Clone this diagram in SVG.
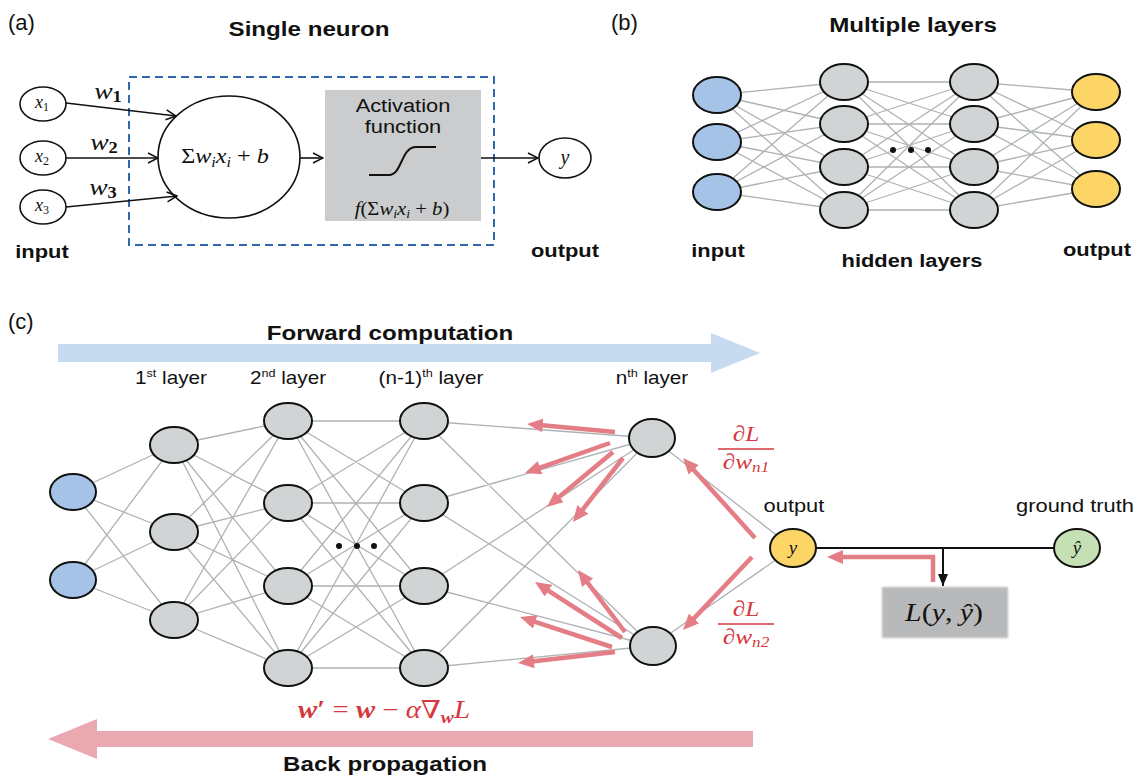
<svg xmlns="http://www.w3.org/2000/svg" width="1146" height="777" viewBox="0 0 1146 777">
<defs>
<style>
.sans{font-family:"Liberation Sans",Arial,sans-serif;fill:#111}
.b{font-weight:bold}
.math{font-family:"Liberation Serif","DejaVu Serif","Times New Roman",serif;font-style:italic;fill:#111}
.up{font-style:normal}
.wide{transform-box:fill-box;transform-origin:center;transform:scaleX(1.15)}
.red{fill:#d5383e}
.node{stroke:#111;stroke-width:2}
.wnode{fill:#fff;stroke:#111;stroke-width:1.6}
.gray{fill:#d1d4d5}
.blue{fill:#a5c3e6}
.yellow{fill:#fdd567}
.green{fill:#c6e0b5}
.edge{stroke:#aeb2b5;stroke-width:1.3;fill:none}
.blk{stroke:#111;stroke-width:1.6;fill:none}
.rarrow{stroke:#e47d85;stroke-width:4.5;fill:none;marker-end:url(#rh)}
</style>
<marker id="oa" viewBox="0 0 12 12" refX="11" refY="6" markerWidth="12" markerHeight="12" markerUnits="userSpaceOnUse" orient="auto"><path d="M1,1 L11,6 L1,11" fill="none" stroke="#111" stroke-width="1.5"/></marker>
<marker id="rh" viewBox="0 0 16 14" refX="9" refY="7" markerWidth="16" markerHeight="14" markerUnits="userSpaceOnUse" orient="auto"><path d="M0,0 L16,7 L0,14 Z" fill="#e47d85"/></marker>
<marker id="bh" viewBox="0 0 12 10" refX="12" refY="5" markerWidth="12" markerHeight="10" markerUnits="userSpaceOnUse" orient="auto"><path d="M0,0 L12,5 L0,10 Z" fill="#111"/></marker>
<filter id="soft" x="-5%" y="-5%" width="110%" height="110%"><feGaussianBlur stdDeviation="1"/></filter>
</defs>
<rect width="1146" height="777" fill="#fff"/>

<!-- ========== Panel (a) ========== -->
<text x="8" y="30" class="sans" font-size="22">(a)</text>
<text x="309" y="36" class="sans b wide" font-size="21" text-anchor="middle">Single neuron</text>
<rect id="a-box" x="129" y="77" width="365" height="168" fill="none" stroke="#2f68b0" stroke-width="2" stroke-dasharray="8,5"/>

<g id="a-x1"><ellipse cx="43" cy="104" rx="23" ry="17" class="wnode"/><text x="42" y="108" class="math" font-size="18" text-anchor="middle">x<tspan class="up" font-size="12" dy="3">1</tspan></text></g>
<g id="a-x2"><ellipse cx="43" cy="158" rx="23" ry="17" class="wnode"/><text x="42" y="162" class="math" font-size="18" text-anchor="middle">x<tspan class="up" font-size="12" dy="3">2</tspan></text></g>
<g id="a-x3"><ellipse cx="43" cy="207" rx="23" ry="17" class="wnode"/><text x="42" y="211" class="math" font-size="18" text-anchor="middle">x<tspan class="up" font-size="12" dy="3">3</tspan></text></g>

<text x="108" y="99" class="math wide" font-size="24" text-anchor="middle">w<tspan class="up" font-weight="bold" font-size="16" dy="3">1</tspan></text>
<text x="104" y="150" class="math wide" font-size="24" text-anchor="middle">w<tspan class="up" font-weight="bold" font-size="16" dy="3">2</tspan></text>
<text x="103" y="195" class="math wide" font-size="24" text-anchor="middle">w<tspan class="up" font-weight="bold" font-size="16" dy="3">3</tspan></text>

<g id="a-sum"><ellipse cx="229" cy="157" rx="71" ry="61" class="wnode"/><text x="225" y="163" class="math wide" font-size="21" text-anchor="middle"><tspan class="up">Σ</tspan>w<tspan font-size="14" dy="4">i</tspan><tspan dy="-4">x</tspan><tspan font-size="14" dy="4">i</tspan><tspan class="up" dy="-4"> + </tspan>b</text></g>

<g id="a-activation">
<rect x="325" y="90" width="156" height="131" fill="#cacccd"/>
<text x="403" y="112" class="sans wide" font-size="19" text-anchor="middle">Activation</text>
<text x="403" y="133" class="sans wide" font-size="19" text-anchor="middle">function</text>
<path d="M369,175 H389 C402,175 401,147 416,147 H436" fill="none" stroke="#111" stroke-width="2"/>
<text x="402" y="215" class="math wide" font-size="18" text-anchor="middle">f<tspan class="up">(Σ</tspan>w<tspan font-size="12" dy="3">i</tspan><tspan dy="-3">x</tspan><tspan font-size="12" dy="3">i</tspan><tspan class="up" dy="-3"> + </tspan>b<tspan class="up">)</tspan></text>
</g>

<g id="a-y"><ellipse cx="565" cy="158" rx="26" ry="20" class="wnode"/><text x="565" y="164" class="math" font-size="20" text-anchor="middle">y</text></g>

<g id="a-connectors">
<line x1="66" y1="103" x2="176" y2="116" class="blk" marker-end="url(#oa)"/>
<line x1="66" y1="158" x2="158" y2="158" class="blk" marker-end="url(#oa)"/>
<line x1="66" y1="207" x2="177" y2="196" class="blk" marker-end="url(#oa)"/>
<line x1="300" y1="158" x2="323" y2="158" class="blk" marker-end="url(#oa)"/>
<line x1="481" y1="158" x2="538" y2="158" class="blk" marker-end="url(#oa)"/>
</g>

<text x="42" y="258" class="sans b wide" font-size="19" text-anchor="middle">input</text>
<text x="565" y="257" class="sans b wide" font-size="19" text-anchor="middle">output</text>

<!-- ========== Panel (b) ========== -->
<text x="611" y="30" class="sans" font-size="22">(b)</text>
<text x="913" y="32" class="sans b wide" font-size="21" text-anchor="middle">Multiple layers</text>

<g id="b-connectors" class="edge">
<path d="M717,95L844,82M717,95L844,124M717,95L844,167M717,95L844,210M717,142L844,82M717,142L844,124M717,142L844,167M717,142L844,210M717,192L844,82M717,192L844,124M717,192L844,167M717,192L844,210
M844,82L974,82M844,82L974,124M844,82L974,167M844,82L974,210M844,124L974,82M844,124L974,124M844,124L974,167M844,124L974,210M844,167L974,82M844,167L974,124M844,167L974,167M844,167L974,210M844,210L974,82M844,210L974,124M844,210L974,167M844,210L974,210
M974,82L1096,92M974,82L1096,140M974,82L1096,189M974,124L1096,92M974,124L1096,140M974,124L1096,189M974,167L1096,92M974,167L1096,140M974,167L1096,189M974,210L1096,92M974,210L1096,140M974,210L1096,189"/>
</g>

<g id="b-in1"><ellipse cx="717" cy="95" rx="24" ry="18" class="node blue"/></g>
<g id="b-in2"><ellipse cx="717" cy="142" rx="24" ry="18" class="node blue"/></g>
<g id="b-in3"><ellipse cx="717" cy="192" rx="24" ry="18" class="node blue"/></g>
<g id="b-h1a"><ellipse cx="844" cy="82" rx="24" ry="18" class="node gray"/></g>
<g id="b-h1b"><ellipse cx="844" cy="124" rx="24" ry="18" class="node gray"/></g>
<g id="b-h1c"><ellipse cx="844" cy="167" rx="24" ry="18" class="node gray"/></g>
<g id="b-h1d"><ellipse cx="844" cy="210" rx="24" ry="18" class="node gray"/></g>
<g id="b-h2a"><ellipse cx="974" cy="82" rx="24" ry="18" class="node gray"/></g>
<g id="b-h2b"><ellipse cx="974" cy="124" rx="24" ry="18" class="node gray"/></g>
<g id="b-h2c"><ellipse cx="974" cy="167" rx="24" ry="18" class="node gray"/></g>
<g id="b-h2d"><ellipse cx="974" cy="210" rx="24" ry="18" class="node gray"/></g>
<g id="b-out1"><ellipse cx="1096" cy="92" rx="24" ry="18" class="node yellow"/></g>
<g id="b-out2"><ellipse cx="1096" cy="140" rx="24" ry="18" class="node yellow"/></g>
<g id="b-out3"><ellipse cx="1096" cy="189" rx="24" ry="18" class="node yellow"/></g>
<g id="b-dots" fill="#111"><circle cx="893" cy="150" r="3"/><circle cx="911" cy="150" r="3"/><circle cx="928" cy="150" r="3"/></g>

<text x="718" y="257" class="sans b wide" font-size="19" text-anchor="middle">input</text>
<text x="912" y="267" class="sans b wide" font-size="19" text-anchor="middle">hidden layers</text>
<text x="1097" y="256" class="sans b wide" font-size="19" text-anchor="middle">output</text>

<!-- ========== Panel (c) ========== -->
<text x="8" y="329" class="sans" font-size="22">(c)</text>
<text x="390" y="340" class="sans b wide" font-size="21" text-anchor="middle">Forward computation</text>
<polygon id="c-forward" points="58,344 711,344 711,333 760,353 711,373 711,362 58,362" fill="#c7dbf0"/>

<text x="171" y="384" class="sans wide" font-size="18" text-anchor="middle">1<tspan font-size="11" dy="-7">st</tspan><tspan dy="7"> layer</tspan></text>
<text x="288" y="384" class="sans wide" font-size="18" text-anchor="middle">2<tspan font-size="11" dy="-7">nd</tspan><tspan dy="7"> layer</tspan></text>
<text x="431" y="384" class="sans wide" font-size="18" text-anchor="middle">(n-1)<tspan font-size="11" dy="-7">th</tspan><tspan dy="7"> layer</tspan></text>
<text x="652" y="384" class="sans wide" font-size="18" text-anchor="middle">n<tspan font-size="11" dy="-7">th</tspan><tspan dy="7"> layer</tspan></text>

<g id="c-connectors">
<path class="edge" d="M73,492L174,445M73,492L174,532M73,492L174,620M73,580L174,445M73,580L174,532M73,580L174,620
M174,445L288,421M174,445L288,503M174,445L288,586M174,445L288,668M174,532L288,421M174,532L288,503M174,532L288,586M174,532L288,668M174,620L288,421M174,620L288,503M174,620L288,586M174,620L288,668
M288,421L424,421M288,421L424,503M288,421L424,586M288,421L424,668M288,503L424,421M288,503L424,503M288,503L424,586M288,503L424,668M288,586L424,421M288,586L424,503M288,586L424,586M288,586L424,668M288,668L424,421M288,668L424,503M288,668L424,586M288,668L424,668
M424,421L652,438M424,421L652,646M424,503L652,438M424,503L652,646M424,586L652,438M424,586L652,646M424,668L652,438M424,668L652,646
M652,438L793,548M652,646L793,548"/>
<line x1="816" y1="548" x2="1054" y2="548" stroke="#111" stroke-width="2"/>
<line x1="943" y1="548" x2="943" y2="586" stroke="#111" stroke-width="2" marker-end="url(#bh)"/>
<path class="rarrow" d="M933,582 V557 H834" stroke-linejoin="miter"/>
<line class="rarrow" x1="615" y1="432" x2="534" y2="424.6"/>
<line class="rarrow" x1="610" y1="443" x2="531.6" y2="470.7"/>
<line class="rarrow" x1="613" y1="452" x2="552.4" y2="502.5"/>
<line class="rarrow" x1="623" y1="458" x2="577.3" y2="516.5"/>
<line class="rarrow" x1="755" y1="538" x2="687.7" y2="463.2"/>
<line class="rarrow" x1="752" y1="557" x2="687.8" y2="624.9"/>
<line class="rarrow" x1="625" y1="632" x2="582.2" y2="575.6"/>
<line class="rarrow" x1="622" y1="638" x2="540.9" y2="585.8"/>
<line class="rarrow" x1="612" y1="647" x2="526.7" y2="619.2"/>
<line class="rarrow" x1="615" y1="652" x2="525" y2="662.2"/>
</g>

<g id="c-in1"><ellipse cx="73" cy="492" rx="23" ry="18" class="node blue"/></g>
<g id="c-in2"><ellipse cx="73" cy="580" rx="23" ry="18" class="node blue"/></g>
<g id="c-l1a"><ellipse cx="174" cy="445" rx="24" ry="18" class="node gray"/></g>
<g id="c-l1b"><ellipse cx="174" cy="532" rx="24" ry="18" class="node gray"/></g>
<g id="c-l1c"><ellipse cx="174" cy="620" rx="24" ry="18" class="node gray"/></g>
<g id="c-l2a"><ellipse cx="288" cy="421" rx="24" ry="18" class="node gray"/></g>
<g id="c-l2b"><ellipse cx="288" cy="503" rx="24" ry="18" class="node gray"/></g>
<g id="c-l2c"><ellipse cx="288" cy="586" rx="24" ry="18" class="node gray"/></g>
<g id="c-l2d"><ellipse cx="288" cy="668" rx="24" ry="18" class="node gray"/></g>
<g id="c-ln1a"><ellipse cx="424" cy="421" rx="24" ry="18" class="node gray"/></g>
<g id="c-ln1b"><ellipse cx="424" cy="503" rx="24" ry="18" class="node gray"/></g>
<g id="c-ln1c"><ellipse cx="424" cy="586" rx="24" ry="18" class="node gray"/></g>
<g id="c-ln1d"><ellipse cx="424" cy="668" rx="24" ry="18" class="node gray"/></g>
<g id="c-dots" fill="#111"><circle cx="339" cy="546" r="3"/><circle cx="357" cy="546" r="3"/><circle cx="374" cy="546" r="3"/></g>
<g id="c-lna"><ellipse cx="652" cy="438" rx="23" ry="19" class="node gray"/></g>
<g id="c-lnb"><ellipse cx="653" cy="646" rx="23" ry="19" class="node gray"/></g>

<g id="c-output"><ellipse cx="793" cy="548" rx="23" ry="19" class="node yellow"/><text x="793" y="554" class="math" font-size="19" text-anchor="middle">y</text></g>
<text x="794" y="512" class="sans wide" font-size="19" text-anchor="middle">output</text>
<g id="c-truth"><ellipse cx="1077" cy="548" rx="23" ry="19" class="node green"/><text x="1077" y="554" class="math" font-size="19" text-anchor="middle">ŷ</text></g>
<text x="1075" y="512" class="sans wide" font-size="19" text-anchor="middle">ground truth</text>

<g id="c-loss">
<rect x="882" y="587" width="126" height="51" fill="#b8b9bb" filter="url(#soft)"/>
<text x="944" y="621" class="math wide" font-size="26" text-anchor="middle">L<tspan class="up">(</tspan>y<tspan class="up">, </tspan>ŷ<tspan class="up">)</tspan></text>
</g>

<g id="c-grad1">
<text x="746" y="441" class="math red wide" font-size="22" text-anchor="middle">∂L</text>
<line x1="718" y1="449" x2="774" y2="449" stroke="#d5383e" stroke-width="1.5"/>
<text x="746" y="469" class="math red wide" font-size="22" text-anchor="middle">∂w<tspan font-size="15" dy="3">n1</tspan></text>
</g>
<g id="c-grad2">
<text x="746" y="616" class="math red wide" font-size="22" text-anchor="middle">∂L</text>
<line x1="718" y1="624" x2="774" y2="624" stroke="#d5383e" stroke-width="1.5"/>
<text x="746" y="644" class="math red wide" font-size="22" text-anchor="middle">∂w<tspan font-size="15" dy="3">n2</tspan></text>
</g>

<text x="384" y="718" class="math red wide" font-size="25" text-anchor="middle"><tspan font-weight="bold">w</tspan><tspan class="up" font-weight="bold">′</tspan><tspan class="up"> = </tspan><tspan font-weight="bold">w</tspan><tspan class="up"> − </tspan>α<tspan class="up">∇</tspan><tspan font-weight="bold" font-size="17" dy="5">w</tspan><tspan dy="-5">L</tspan></text>
<polygon id="c-back" points="753,731 97,731 97,719 48,739 97,759 97,747 753,747" fill="#eaa9b0"/>
<text x="385" y="771" class="sans b wide" font-size="21" text-anchor="middle">Back propagation</text>
</svg>
